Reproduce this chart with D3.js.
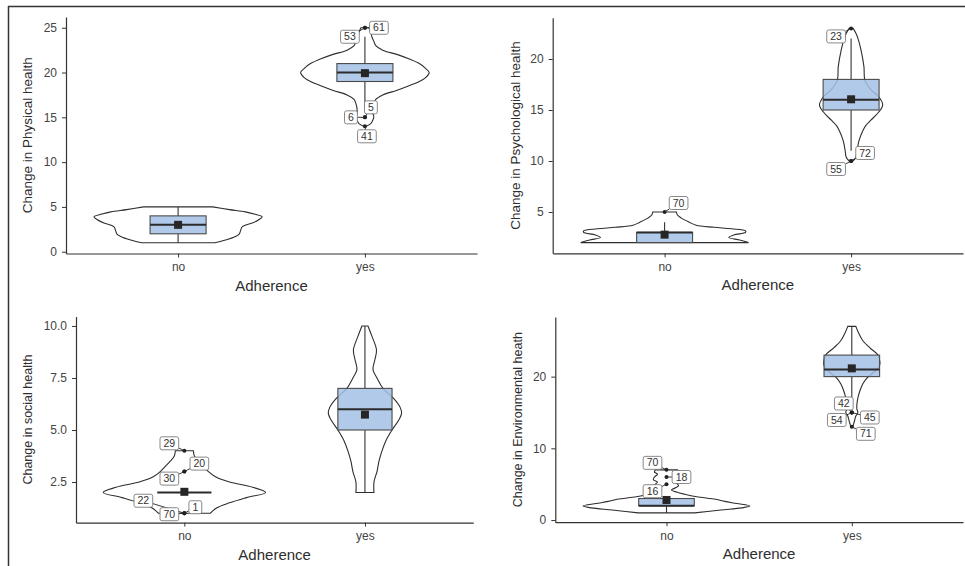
<!DOCTYPE html>
<html>
<head>
<meta charset="utf-8">
<script src="https://cdn.jsdelivr.net/npm/d3@7"></script>
<style>
body { margin: 0; background: #fff; }
text { font-family: "Liberation Sans", Arial, sans-serif; }
</style>
</head>
<body>
<div id="chart"></div>
<script>
const groups = ["no", "yes"];

// box stats per group: [lower whisker, q1, median, q3, upper whisker, mean]
const physicalBox = [[1, 2, 3, 4, 5, 3], [16, 19, 20, 21, 24, 19.93]];
const psychBox = [[2, 2, 3, 3, 4, 2.78], [11, 15, 16, 18, 22, 16.05]];
const socialBox = [[2, 2, 2, 2, 2, 2.03], [2, 5, 6, 7, 10, 5.74]];
const envBox = [[1, 2, 2, 3, 3, 2.8], [16, 20, 21, 23, 27, 21.15]];

// violin profiles: [value, relative density]
const physicalViolinNo = [[1, 37], [1.3, 48], [1.7, 58], [2, 62], [2.3, 63], [2.8, 65], [3.2, 75], [3.6, 82], [3.9, 85], [4.2, 77], [4.45, 68], [4.7, 52], [5, 35]];
const physicalViolinYes = [[14, 1], [14.3, 6], [14.7, 8], [15, 9], [15.5, 8], [16, 8], [16.5, 9], [17, 11], [17.5, 18], [18, 32], [18.5, 44], [19, 55], [19.5, 62], [20, 65], [20.5, 61], [21, 55], [21.5, 45], [22, 33], [22.5, 18], [23, 11], [23.5, 9], [24, 7], [24.5, 6], [25, 4]];
const psychViolinNo = [[2, 85], [2.25, 76], [2.5, 65], [2.75, 70], [3, 82], [3.15, 82], [3.35, 68], [3.5, 50], [3.7, 32], [4, 25], [4.4, 17], [4.7, 13], [5, 12]];
const psychViolinYes = [[10, 2], [10.4, 5], [11, 6], [12, 8], [13, 12], [13.5, 15], [14, 20], [14.8, 28], [15.5, 32], [16.3, 28], [17, 20], [17.9, 14], [19.25, 13], [20.9, 10], [22, 7], [22.5, 5], [23, 2]];
const socialViolinNo = [[1, 26], [1.25, 32], [1.5, 45], [1.75, 62], [2, 81], [2.25, 68], [2.5, 45], [2.75, 31], [3, 24], [3.25, 19], [3.5, 14], [3.75, 10], [4, 9]];
const socialViolinYes = [[2, 9], [2.5, 9], [3, 12], [3.5, 14], [4, 17], [4.5, 21], [5, 27], [5.5, 34], [5.8, 36.5], [6.1, 35], [6.5, 29], [7, 18], [7.5, 12], [7.9, 8], [8.4, 10], [8.85, 11.5], [9.5, 7], [10, 3]];
const envViolinNo = [[1, 28], [1.4, 54], [1.7, 75], [1.95, 83], [2.3, 70], [2.6, 58], [2.9, 49], [3.25, 30], [3.6, 18], [3.9, 10], [4.2, 5], [4.5, 9], [4.8, 12], [5, 11], [5.3, 9], [5.6, 13], [6, 12], [6.4, 9], [6.7, 12], [7, 11]];
const envViolinYes = [[13, 1], [13.5, 2], [14, 3], [14.5, 4], [15, 6], [15.5, 5], [16, 5], [17, 6], [18, 8], [19, 11], [19.8, 15], [20.5, 21], [21, 25], [21.5, 27.5], [22, 28], [23, 26], [24, 18], [25, 11], [26, 7], [27, 4]];

// outliers: [group, value, id]
const physicalOutliers = [["yes", 25, "53"], ["yes", 25, "61"], ["yes", 15, "6"], ["yes", 15, "5"], ["yes", 14, "41"]];
const psychOutliers = [["no", 5, "70"], ["yes", 23, "23"], ["yes", 10, "55"], ["yes", 10, "72"]];
const socialOutliers = [["no", 4, "29"], ["no", 3, "20"], ["no", 3, "30"], ["no", 1, "22"], ["no", 1, "70"], ["no", 1, "1"]];
const envOutliers = [["no", 7, "70"], ["no", 6, "18"], ["no", 5, "16"], ["yes", 15, "42"], ["yes", 15, "54"], ["yes", 15, "45"], ["yes", 13, "71"]];

// tick values
const physicalTicks = [0, 5, 10, 15, 20, 25];
const psychTicks = [5, 10, 15, 20];
const socialTicks = [2.5, 5, 7.5, 10];
const envTicks = [0, 10, 20];

// label offsets (px) from each point, like the repelled labels
const physicalNudge = { "53": [-15, 9], "61": [14, 0], "6": [-14, 0], "5": [6, -10], "41": [2, 10] };
const psychNudge = { "70": [14, -9], "23": [-15, 8], "55": [-15, 8], "72": [14, -8] };
const socialNudge = { "29": [-15, -7.5], "20": [15, -8], "30": [-15, 7], "22": [-41, -12.5], "70": [-15, 1], "1": [11, -6] };
const envNudge = { "70": [-14, -7], "18": [15, 0], "16": [-14, 7], "42": [-8, -9], "54": [-15, 7.5], "45": [18, 5], "71": [14, 7] };

const panels = [
    { title: "Change in Physical health", box: physicalBox, violins: [physicalViolinNo, physicalViolinYes], outliers: physicalOutliers, nudge: physicalNudge, ticks: physicalTicks, fmt: "d",
      x0: 66, x1: 477, y0: 17, y1: 253.5, titleOff: 34, titleSize: 13.5 },
    { title: "Change in Psychological health", box: psychBox, violins: [psychViolinNo, psychViolinYes], outliers: psychOutliers, nudge: psychNudge, ticks: psychTicks, fmt: "d",
      x0: 552.7, x1: 963, y0: 17.7, y1: 253.3, titleOff: 33, titleSize: 13.5 },
    { title: "Change in social health", box: socialBox, violins: [socialViolinNo, socialViolinYes], outliers: socialOutliers, nudge: socialNudge, ticks: socialTicks, fmt: ".1f",
      x0: 76, x1: 473.3, y0: 316.6, y1: 522.6, titleOff: 44, titleSize: 12.5 },
    { title: "Change in Environmental heath", box: envBox, violins: [envViolinNo, envViolinYes], outliers: envOutliers, nudge: envNudge, ticks: envTicks, fmt: "d",
      x0: 555.3, x1: 963, y0: 317.1, y1: 522.2, titleOff: 33, titleSize: 12.5 }
];

const width = 965, height = 566;
const svg = d3.select("#chart").append("svg")
    .attr("width", width)
    .attr("height", height);

// outer frame (top and left edges visible)
svg.append("line").attr("x1", 8).attr("x2", width).attr("y1", 6.5).attr("y2", 6.5)
    .style("stroke", "#333").style("stroke-width", 1.5);
svg.append("line").attr("x1", 8.5).attr("x2", 8.5).attr("y1", 6).attr("y2", height)
    .style("stroke", "#333").style("stroke-width", 1.5);

panels.forEach(p => {
    const g = svg.append("g");

    // y scale with 5% expansion of the data range
    const [mn, mx] = d3.extent(p.violins.flat(), d => d[0]);
    const pad = (mx - mn) * 0.05;
    const y = d3.scaleLinear().domain([mn - pad, mx + pad]).range([p.y1, p.y0]);
    const x = d3.scalePoint().domain(groups).range([p.x0, p.x1]).padding(0.6);
    const maxD = d3.max(p.violins.flat(), d => d[1]);
    const w = d3.scaleLinear().domain([0, maxD]).range([0, x.step() * 0.45]);
    const boxHalf = x.step() * 0.15;

    // violins
    groups.forEach((grp, i) => {
        const cx = x(grp);
        const area = d3.area()
            .curve(d3.curveCatmullRom)
            .y(d => y(d[0]))
            .x0(d => cx - w(d[1]))
            .x1(d => cx + w(d[1]));
        g.append("path")
            .datum(p.violins[i])
            .attr("d", area)
            .style("fill", "#fff")
            .style("stroke", "#2e2e2e")
            .style("stroke-width", 1.1);
    });

    // boxplots
    groups.forEach((grp, i) => {
        const cx = x(grp);
        const [lo, q1, med, q3, hi, mean] = p.box[i];
        g.append("line").attr("x1", cx).attr("x2", cx).attr("y1", y(lo)).attr("y2", y(q1))
            .style("stroke", "#333").style("stroke-width", 1.1);
        g.append("line").attr("x1", cx).attr("x2", cx).attr("y1", y(q3)).attr("y2", y(hi))
            .style("stroke", "#333").style("stroke-width", 1.1);
        if (q3 > q1) {
            g.append("rect")
                .attr("x", cx - boxHalf).attr("width", boxHalf * 2)
                .attr("y", y(q3)).attr("height", y(q1) - y(q3))
                .style("fill", "#a4c1e6").style("fill-opacity", 0.85)
                .style("stroke", "#4a4a4a").style("stroke-width", 1.1);
        }
        g.append("line").attr("x1", cx - boxHalf).attr("x2", cx + boxHalf).attr("y1", y(med)).attr("y2", y(med))
            .style("stroke", "#2b2b2b").style("stroke-width", 2);
        g.append("rect")
            .attr("x", cx - 4).attr("y", y(mean) - 4).attr("width", 8).attr("height", 8)
            .style("fill", "#262626");
    });

    // axes
    const yAxis = g.append("g")
        .attr("transform", `translate(${p.x0},0)`)
        .call(d3.axisLeft(y).tickValues(p.ticks).tickFormat(d3.format(p.fmt)).tickSize(4).tickSizeOuter(0).tickPadding(5));
    const xAxis = g.append("g")
        .attr("transform", `translate(0,${p.y1})`)
        .call(d3.axisBottom(x).tickSize(4).tickSizeOuter(0).tickPadding(5));
    [yAxis, xAxis].forEach(a => {
        a.select(".domain").style("stroke", "#333").style("stroke-width", 1.2);
        a.selectAll(".tick line").style("stroke", "#333");
        a.selectAll(".tick text").style("fill", "#444").style("font-size", "12px")
            .style("font-family", "'Liberation Sans', Arial, sans-serif");
    });

    // axis titles
    g.append("text")
        .attr("x", (p.x0 + p.x1) / 2).attr("y", p.y1 + 37)
        .attr("text-anchor", "middle")
        .style("font-size", "15px").style("fill", "#2e2e2e")
        .text("Adherence");
    g.append("text")
        .attr("transform", `translate(${p.x0 - p.titleOff},${(p.y0 + p.y1) / 2}) rotate(-90)`)
        .attr("text-anchor", "middle")
        .style("font-size", p.titleSize + "px").style("fill", "#2e2e2e")
        .text(p.title);

    // outlier points with repelled labels
    const lab = g.append("g");
    p.outliers.forEach(([grp, v, id]) => {
        const px = x(grp), py = y(v);
        const [dx, dy] = p.nudge[id];
        const lx = px + dx, ly = py + dy;
        const t = lab.append("text")
            .attr("x", lx).attr("y", ly + 3.6)
            .attr("text-anchor", "middle")
            .style("font-size", "10.5px").style("fill", "#333")
            .text(id);
        const tw = t.node().getComputedTextLength();
        const bw = tw + 7, bh = 13;
        // segment from point to box edge
        const sx = Math.abs(dx) > 0 ? (bw / 2) / Math.abs(dx) : Infinity;
        const sy = Math.abs(dy) > 0 ? (bh / 2) / Math.abs(dy) : Infinity;
        const s = Math.min(sx, sy);
        if (s < 1) {
            g.append("line")
                .attr("x1", px).attr("y1", py)
                .attr("x2", lx - dx * s).attr("y2", ly - dy * s)
                .style("stroke", "#222").style("stroke-width", 0.9);
        }
        g.append("circle").attr("cx", px).attr("cy", py).attr("r", 2).style("fill", "#222");
        lab.insert("rect", () => t.node())
            .attr("x", lx - bw / 2).attr("y", ly - bh / 2)
            .attr("width", bw).attr("height", bh)
            .attr("rx", 2)
            .style("fill", "#fff")
            .style("stroke", "#7a7a7a").style("stroke-width", 0.9);
    });
    lab.raise();
});
</script>
</body>
</html>
